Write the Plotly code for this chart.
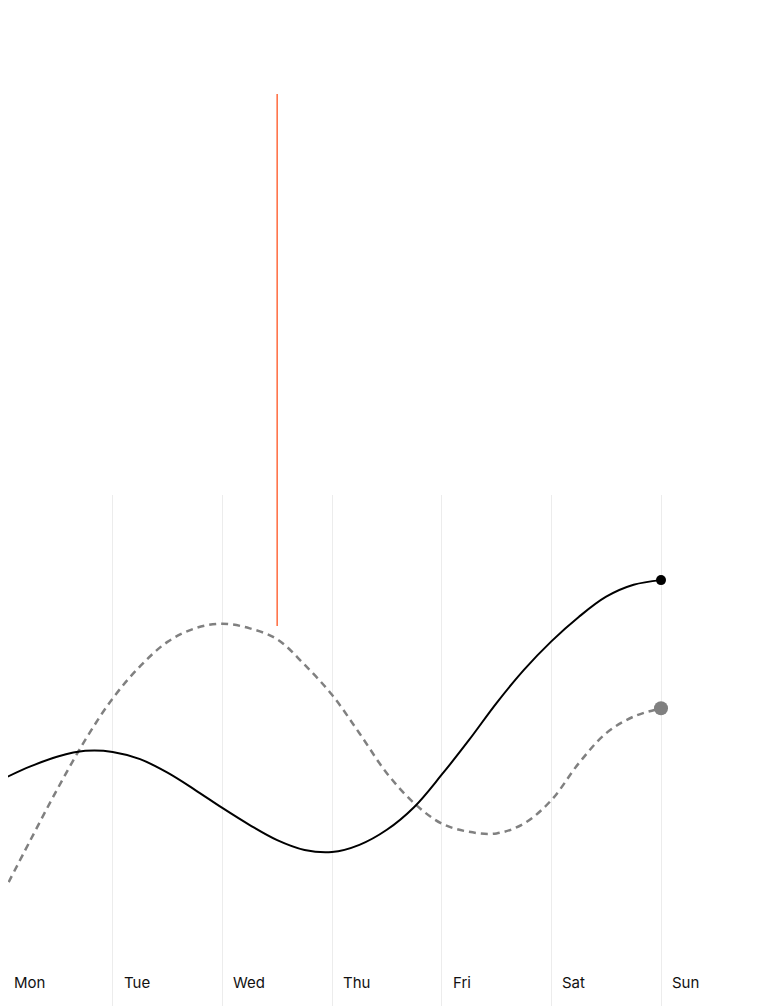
import plotly.graph_objects as go

# readings taken four times a day (x = day index)
days = ["Mon", "Tue", "Wed", "Thu", "Fri", "Sat", "Sun"]
t = [i / 4 for i in range(25)]
this_week = [45.3, 47.7, 49.6, 50.7, 50.5, 49.1, 46.5, 43.2, 39.7, 36.4, 33.5, 31.6, 31.2,
             32.6, 35.5, 39.9, 46.1, 52.8, 59.9, 66.3, 71.8, 76.5, 80.4, 82.7, 83.6]
last_week = [23.3, 33.5, 43.5, 52.8, 60.8, 67.0, 71.7, 74.3, 75.2, 74.3, 72.2, 67.3, 61.5,
             54.1, 46.4, 40.6, 36.7, 35.1, 34.8, 36.7, 41.2, 48.3, 54.1, 57.3, 58.9]
marker_day = 2.5  # orange line, Wed midday

W, H = 770, 1006
# the page sits 8px in from the window corner
px_per = (661 - 3) / 6
x0 = (8 - 3) / px_per
span = W / px_per

fig = go.Figure()

# dashed grey series
fig.add_trace(go.Scatter(x=t, y=last_week, mode="lines",
                         line=dict(color="#808080", width=2.5, dash="7px,5px", shape="spline", smoothing=1),
                         hoverinfo="skip", showlegend=False))
fig.add_trace(go.Scatter(x=t[-1:], y=last_week[-1:], mode="markers",
                         marker=dict(color="#808080", size=14),
                         hoverinfo="skip", showlegend=False, cliponaxis=False))

# solid black series
fig.add_trace(go.Scatter(x=t, y=this_week, mode="lines",
                         line=dict(color="#000000", width=2, shape="spline", smoothing=1),
                         hoverinfo="skip", showlegend=False))
fig.add_trace(go.Scatter(x=t[-1:], y=this_week[-1:], mode="markers",
                         marker=dict(color="#000000", size=10),
                         hoverinfo="skip", showlegend=False, cliponaxis=False))

# day labels sit just right of each grid line (paper coords so Mon is not hidden)
for i, d in enumerate(days):
    fig.add_annotation(x=(i - x0) / span, y=0.0318, xref="paper", yref="paper", text=d,
                       showarrow=False, xanchor="left", yanchor="middle", xshift=9,
                       font=dict(family="Inter", size=15, color="#111111"))

# orange marker line
fig.add_shape(type="line", xref="x", yref="paper", x0=marker_day, x1=marker_day,
              y0=0.3857, y1=0.9145, line=dict(color="#ff6a3d", width=1.5))

fig.update_xaxes(range=[x0, x0 + span], tickvals=list(range(len(days))),
                 showgrid=True, gridcolor="#ececec", gridwidth=1,
                 showticklabels=False, zeroline=False, showline=False, ticks="")
fig.update_yaxes(range=[0, 100], domain=[0, (H - 487) / H],
                 showgrid=False, showticklabels=False, zeroline=False, showline=False)

fig.update_layout(width=W, height=H, margin=dict(l=0, r=0, t=0, b=0),
                  paper_bgcolor="white", plot_bgcolor="white",
                  font=dict(family="Inter"))

fig.write_html("out.html")
